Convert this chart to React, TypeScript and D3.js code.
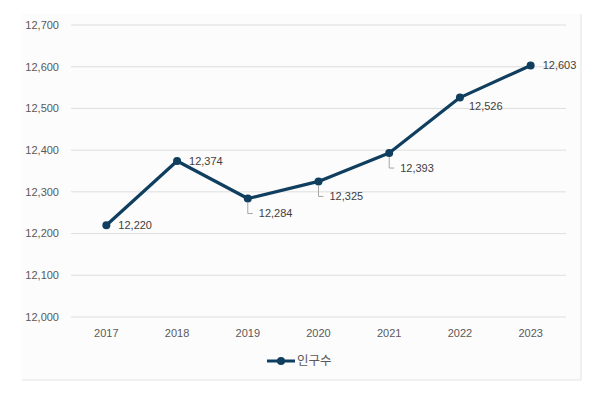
import * as d3 from 'd3'

const years = ['2017', '2018', '2019', '2020', '2021', '2022', '2023']
const population = [12220, 12374, 12284, 12325, 12393, 12526, 12603]
// where each data label sits: to the right, below-right, or with a leader line
const labelPos = ['right', 'right', 'leader', 'leader', 'leader', 'below', 'right']
const yTicks = [12000, 12100, 12200, 12300, 12400, 12500, 12600, 12700]
const seriesName = '인구수'

const W = 607
const H = 393
const margin = { top: 25, right: 41, bottom: 76, left: 71 }
const lineColor = '#0f3e5f'
const font = '"Liberation Sans", Arial, sans-serif'

export default function App() {
  const x = d3.scaleBand<string>()
    .domain(years)
    .range([margin.left, W - margin.right])
  const y = d3.scaleLinear()
    .domain([12000, 12700])
    .range([H - margin.bottom, margin.top])

  const cx = (d: string) => x(d)! + x.bandwidth() / 2
  const line = d3.line<number>()
    .x((_, i) => cx(years[i]))
    .y(d => y(d))

  const fmt = d3.format(',')

  return (
    <svg width={W} height={H} style={{ position: 'absolute', left: 0, top: 0, background: '#fff' }}>
      {/* chart frame */}
      <rect x={22} y={14} width={559} height={366} fill="#fcfcfc" />
      <line x1={581} x2={581} y1={14} y2={380} stroke="#e3e3e3" />
      <line x1={22} x2={581} y1={380} y2={380} stroke="#e3e3e3" />

      {/* gridlines + y ticks */}
      {yTicks.map(t => (
        <g key={t}>
          <line x1={margin.left} x2={W - margin.right} y1={y(t)} y2={y(t)} stroke="#dedede" strokeWidth={1} />
          <text x={59} y={y(t)} dy="0.35em" textAnchor="end" fontSize={11} fontFamily={font} fill="#595959">
            {fmt(t)}
          </text>
        </g>
      ))}

      {/* x labels */}
      {years.map(d => (
        <text key={d} x={cx(d)} y={337} textAnchor="middle" fontSize={11} fontFamily={font} fill="#595959">
          {d}
        </text>
      ))}

      {/* series */}
      <path d={line(population) ?? ''} fill="none" stroke={lineColor} strokeWidth={3.2} strokeLinejoin="round" />
      {population.map((v, i) => (
        <circle key={i} cx={cx(years[i])} cy={y(v)} r={4} fill={lineColor} />
      ))}

      {/* data labels */}
      {population.map((v, i) => {
        const px = cx(years[i])
        const py = y(v)
        const pos = labelPos[i]
        if (pos === 'leader') {
          return (
            <g key={i}>
              <path d={`M${px},${py + 4}V${py + 15}H${px + 5}`} fill="none" stroke="#a6a6a6" strokeWidth={1} />
              <text x={px + 11} y={py + 15} dy="0.35em" fontSize={11} fontFamily={font} fill="#404040">
                {fmt(v)}
              </text>
            </g>
          )
        }
        const dx = pos === 'below' ? 9 : 12
        const dy = pos === 'below' ? 9 : 0
        return (
          <text key={i} x={px + dx} y={py + dy} dy="0.35em" fontSize={11} fontFamily={font} fill="#404040">
            {fmt(v)}
          </text>
        )
      })}

      {/* legend */}
      <g transform="translate(267,361)">
        <line x1={0} x2={28} y1={0} y2={0} stroke={lineColor} strokeWidth={3} />
        <circle cx={14} cy={0} r={4} fill={lineColor} />
        <text x={30} y={0} dy="0.35em" fontSize={12.5} fontFamily='"Noto Sans CJK KR", sans-serif' fill="#595959">
          {seriesName}
        </text>
      </g>
    </svg>
  )
}
